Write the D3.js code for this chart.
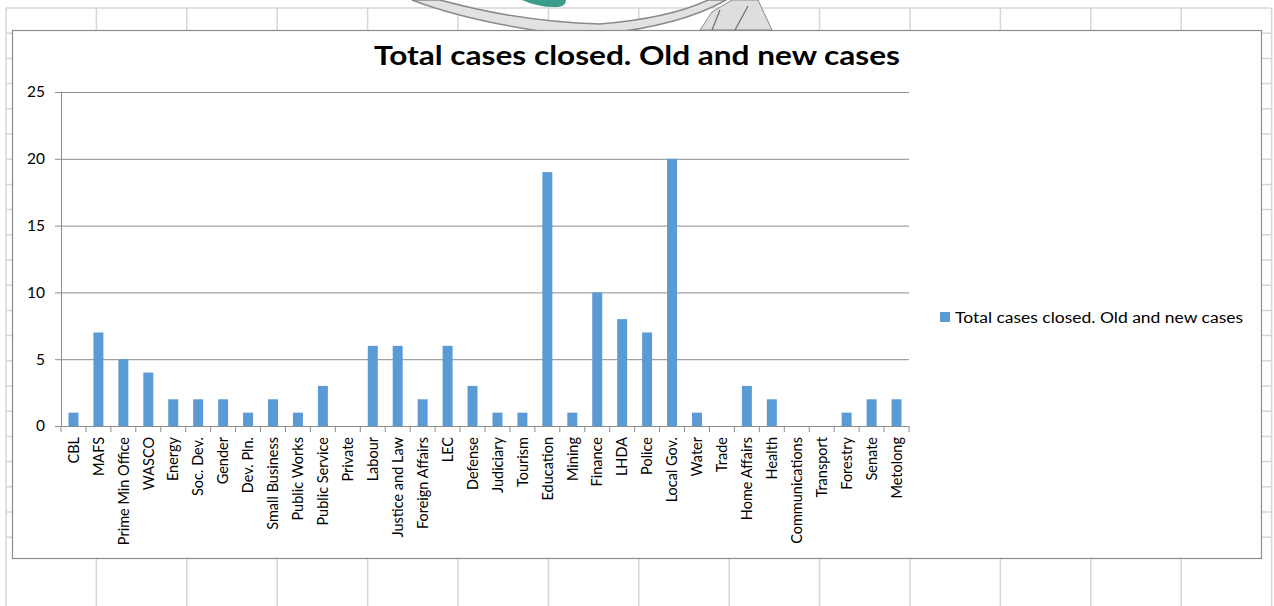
<!DOCTYPE html>
<html>
<head>
<meta charset="utf-8">
<script src="https://cdn.jsdelivr.net/npm/d3@7"></script>
<style>
  html, body { margin: 0; padding: 0; background: #ffffff; }
  svg { display: block; }
  text { font-family: Lato, "Open Sans", sans-serif; fill: #000; }
</style>
</head>
<body>
<svg id="chart" width="1274" height="606"></svg>
<script>
// Ministries / agencies and cases closed (old and new together)
const categories = [
  "CBL", "MAFS", "Prime Min Office", "WASCO", "Energy", "Soc. Dev.", "Gender",
  "Dev. Pln.", "Small Business", "Public Works", "Public Service", "Private",
  "Labour", "Justice and Law", "Foreign Affairs", "LEC", "Defense", "Judiciary",
  "Tourism", "Education", "Mining", "Finance", "LHDA", "Police", "Local Gov.",
  "Water", "Trade", "Home Affairs", "Health", "Communications", "Transport",
  "Forestry", "Senate", "Metolong"
];
const casesClosed = [
  1, 7, 5, 4, 2, 2, 2,
  1, 2, 1, 3, 0,
  6, 6, 2, 6, 3, 1,
  1, 19, 1, 10, 8, 7, 20,
  1, 0, 3, 2, 0, 0,
  1, 2, 2
];
const yTicks = [0, 5, 10, 15, 20, 25];
const seriesName = "Total cases closed. Old and new cases";
const chartTitle = "Total cases closed. Old and new cases";

const svg = d3.select("#chart");
const W = 1274, H = 606;

// ---- worksheet cell grid behind the chart object ----
const sheet = svg.append("g").attr("stroke", "#d6d6d6").attr("stroke-width", 1.5);
const colX = d3.range(0, 15).map(k => 6 + 90.4 * k);
const rowY = d3.range(0, 22).map(k => 8 + 25.2 * k);
sheet.selectAll("line.row").data(rowY).join("line")
  .attr("x1", 6).attr("x2", 1271).attr("y1", d => d).attr("y2", d => d);
sheet.selectAll("line.col").data(colX).join("line")
  .attr("x1", d => d).attr("x2", d => d).attr("y1", 8).attr("y2", H);

// ---- partial logo peeking out above the chart object ----
const logo = svg.append("g");
logo.append("path")
  .attr("d", "M412,0 Q470,22 560,34 L600,34 Q680,26 726,0 L708,0 Q670,18 600,24 Q520,22 440,0 Z")
  .attr("fill", "#e2e2e2").attr("stroke", "#8a8a8a").attr("stroke-width", 1.5);
logo.append("path")
  .attr("d", "M522,0 L566,0 Q566,6 558,7 Q540,8 522,0 Z")
  .attr("fill", "#3d9c8a");
logo.append("path")
  .attr("d", "M700,30 L712,12 L732,0 L758,0 L772,30 Z")
  .attr("fill", "#dedede").attr("stroke", "#8a8a8a").attr("stroke-width", 1);
logo.append("path")
  .attr("d", "M712,30 L720,10 M735,30 L748,6")
  .attr("fill", "none").attr("stroke", "#6e6e6e").attr("stroke-width", 1.2);

// ---- chart object ----
const frame = { x: 12, y: 30, w: 1249, h: 528 };
svg.append("rect")
  .attr("x", frame.x + 0.5).attr("y", frame.y + 0.5)
  .attr("width", frame.w).attr("height", frame.h)
  .attr("fill", "#ffffff").attr("stroke", "#8c8c8c").attr("stroke-width", 1.2);

const plot = { left: 61, right: 909, top: 92, bottom: 426 };

const x = d3.scaleBand()
  .domain(categories)
  .range([plot.left, plot.right])
  .paddingInner(0.6)
  .paddingOuter(0.3);

const y = d3.scaleLinear()
  .domain([0, 25])
  .range([plot.bottom, plot.top]);

// horizontal gridlines with the value axis
const yAxis = d3.axisLeft(y)
  .tickValues(yTicks)
  .tickSize(-(plot.right - plot.left))
  .tickPadding(16)
  .tickFormat(d3.format("d"));
const gy = svg.append("g")
  .attr("transform", `translate(${plot.left},0)`)
  .call(yAxis);
gy.select(".domain").attr("stroke", "#8c8c8c");
gy.selectAll(".tick line").attr("stroke", "#8c8c8c").attr("stroke-width", 1)
  .attr("x1", -6);
gy.selectAll(".tick text")
  .style("font-size", "15.5px")
  .attr("x", -16);

// bars
svg.append("g").selectAll("rect").data(casesClosed).join("rect")
  .attr("x", (d, i) => x(categories[i]))
  .attr("width", x.bandwidth())
  .attr("y", d => y(d))
  .attr("height", d => y(0) - y(d))
  .attr("fill", "#5b9bd5");

// category axis: line at zero with tick marks on band boundaries
const gx = svg.append("g").attr("transform", `translate(0,${plot.bottom})`);
gx.append("line")
  .attr("x1", plot.left).attr("x2", plot.right)
  .attr("y1", 0.5).attr("y2", 0.5)
  .attr("stroke", "#8c8c8c");
const bounds = d3.range(categories.length + 1).map(i => plot.left + i * x.step());
gx.selectAll("line.tk").data(bounds).join("line")
  .attr("class", "tk")
  .attr("x1", d => d).attr("x2", d => d)
  .attr("y1", 0).attr("y2", 6)
  .attr("stroke", "#8c8c8c");
gx.selectAll("text").data(categories).join("text")
  .attr("transform", d => `translate(${x(d) + x.bandwidth() / 2},11) rotate(-90)`)
  .attr("text-anchor", "end")
  .attr("dy", "0.36em")
  .style("font-size", "14.5px")
  .text(d => d);

// title
svg.append("text")
  .attr("x", 374)
  .attr("y", 65)
  .attr("textLength", 526)
  .attr("lengthAdjust", "spacingAndGlyphs")
  .style("font-size", "26.5px")
  .style("font-weight", "700")
  .text(chartTitle);

// legend
const lg = svg.append("g").attr("transform", "translate(940,312)");
lg.append("rect").attr("width", 10).attr("height", 10).attr("fill", "#5b9bd5");
lg.append("text")
  .attr("x", 15).attr("y", 5).attr("dy", "0.36em")
  .attr("textLength", 288)
  .attr("lengthAdjust", "spacingAndGlyphs")
  .style("font-size", "15.5px")
  .text(seriesName);
</script>
</body>
</html>
